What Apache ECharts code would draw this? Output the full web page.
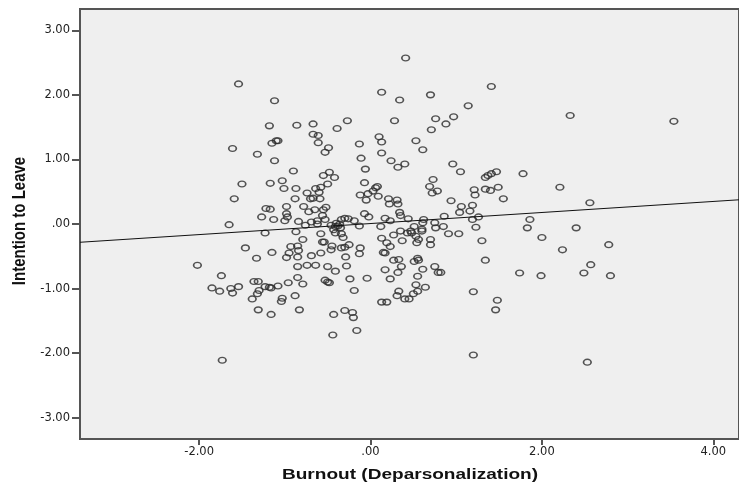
<!DOCTYPE html>
<html><head><meta charset="utf-8">
<script src="https://cdn.jsdelivr.net/npm/echarts@6/dist/echarts.min.js"></script>
<style>html,body{margin:0;padding:0;background:#fff}#c{width:739px;height:488px}</style>
</head><body><div id="c"></div>
<script>
const burnout = [
-1.54,-1.12,0.13,-1.18,-0.86,-0.67,-0.27,-0.39,-0.67,-0.61,
-0.61,-1.15,-1.10,-1.08,-1.61,-1.32,-1.12,-0.53,-0.49,-0.13,
0.10,0.13,0.13,-0.11,-0.06,-0.90,-0.55,-0.48,-0.42,-1.50,
-1.17,-1.03,-1.01,-0.87,-0.50,-0.58,-0.64,-0.74,-0.60,-0.07,
-1.59,-0.88,-0.70,-0.67,-0.59,-0.12,-0.03,0.03,0.06,0.08,
0.09,-0.05,-1.22,-1.17,-0.98,-0.78,-0.72,-0.65,-0.52,-0.55,
-1.27,-1.13,-1.00,-0.98,-0.97,-1.65,-0.84,-0.76,-0.69,-0.62,
-0.56,-0.53,-0.62,-0.46,-0.41,-0.36,-0.34,-0.30,-0.26,-0.19,
-0.13,-0.07,-0.02,-1.23,-0.87,-0.79,-0.58,-0.56,-0.43,-0.41,
-0.34,-0.32,-0.38,-0.35,-0.40,
-1.46,-1.33,-1.15,-0.93,-0.85,-0.84,-0.95,-0.98,-0.85,-0.69,
-0.58,-0.54,-0.45,-0.46,-0.34,-0.30,-0.25,-0.12,-0.13,-0.29,
-0.28,-2.02,-1.74,-1.85,-1.76,-1.63,-1.61,-1.54,-1.36,-1.31,
-1.38,-1.32,-1.30,-1.23,-1.18,-1.16,-1.08,-1.03,-1.04,-0.96,
-0.85,-0.79,-0.88,-0.85,-0.74,-0.64,-0.50,-0.41,-0.53,-0.50,
-0.48,-0.24,-0.19,-0.04,-1.31,-1.16,-0.83,-0.43,-0.30,-0.21,
-0.20,-0.16,-0.44,-1.73,
0.34,0.70,1.41,1.14,2.33,0.28,0.76,0.97,0.88,0.71,
0.53,0.61,0.24,0.32,0.40,0.96,1.05,1.78,0.73,0.69,
0.72,0.78,1.34,1.37,1.41,1.47,1.34,1.40,1.49,1.55,
1.21,1.22,2.21,2.56,0.21,0.22,0.31,0.32,0.17,0.23,
0.34,0.35,0.44,0.12,0.62,0.61,0.51,0.60,0.75,0.86,
0.85,0.94,1.06,1.04,1.19,1.16,1.26,1.19,1.23,1.86,
1.83,2.00,2.40,1.30,2.78,2.24,0.13,0.27,0.35,0.43,
0.47,0.48,0.53,0.56,0.60,0.70,0.70,0.76,0.91,1.03,
0.54,0.19,0.23,0.37,
0.15,0.17,0.27,0.33,0.36,0.32,0.17,0.23,0.51,0.55,
0.56,0.61,0.75,0.79,0.82,0.55,0.53,0.64,0.55,0.50,
0.45,0.40,0.33,0.31,0.13,0.19,1.34,1.74,1.99,2.49,
2.57,2.80,1.20,1.48,1.46,1.20,2.53,0.41,3.54
];
const intention = [
2.17,1.91,2.04,1.52,1.53,1.55,1.60,1.48,1.39,1.37,
1.26,1.25,1.29,1.29,1.17,1.08,0.98,1.11,1.18,1.24,
1.35,1.27,1.10,1.02,0.85,0.82,0.75,0.80,0.72,0.62,
0.63,0.67,0.55,0.55,0.62,0.57,0.55,0.48,0.49,0.64,
0.39,0.39,0.39,0.40,0.39,0.45,0.47,0.51,0.56,0.58,
0.43,0.37,0.24,0.23,0.27,0.27,0.19,0.22,0.26,0.22,
0.11,0.07,0.05,0.16,0.11,-0.01,0.04,-0.02,0.03,0.05,
0.13,0.07,0.00,-0.02,-0.04,0.00,0.07,0.09,0.08,0.05,
-0.03,0.16,0.11,-0.14,-0.12,-0.24,-0.15,-0.28,-0.09,-0.14,
-0.15,-0.21,-0.03,-0.06,0.01,
-0.37,-0.53,-0.44,-0.35,-0.34,-0.41,-0.45,-0.52,-0.51,-0.49,
-0.45,-0.28,-0.34,-0.40,-0.37,-0.36,-0.32,-0.37,-0.46,-0.51,
-0.65,-0.64,-0.80,-0.99,-1.04,-1.00,-1.07,-0.97,-0.89,-0.89,
-1.16,-1.08,-1.03,-0.97,-0.98,-0.99,-0.96,-1.15,-1.20,-0.91,
-0.83,-0.93,-1.11,-0.66,-0.64,-0.64,-0.66,-0.73,-0.87,-0.90,
-0.91,-0.85,-1.03,-0.84,-1.33,-1.40,-1.33,-1.40,-1.34,-1.37,
-1.45,-1.65,-1.72,-2.11,
1.92,2.00,2.13,1.83,1.68,1.60,1.63,1.66,1.55,1.46,
1.29,1.15,0.98,0.88,0.93,0.93,0.81,0.78,0.69,0.58,
0.48,0.51,0.72,0.75,0.78,0.81,0.54,0.52,0.57,0.39,
0.53,0.45,0.57,0.33,0.39,0.31,0.37,0.31,0.09,0.05,
0.18,0.13,0.08,-0.04,0.07,0.02,-0.04,-0.08,0.02,0.12,
-0.04,0.36,0.27,0.18,0.29,0.20,0.11,0.07,-0.05,0.07,
-0.06,-0.21,-0.06,-0.26,-0.32,-0.40,-0.22,-0.17,-0.11,-0.14,
-0.11,-0.14,-0.19,-0.24,-0.11,-0.24,-0.32,-0.06,-0.15,-0.15,
-0.29,-0.29,-0.35,-0.26,
-0.44,-0.45,-0.56,-0.55,-0.66,-0.75,-0.71,-0.85,-0.58,-0.53,
-0.56,-0.70,-0.66,-0.75,-0.75,-0.81,-0.94,-0.98,-1.04,-1.08,
-1.16,-1.16,-1.04,-1.11,-1.21,-1.21,-0.56,-0.76,-0.80,-0.76,
-0.63,-0.80,-1.05,-1.18,-1.33,-2.03,-2.14,2.57,1.59
];
const xTicks = [-2, 0, 2, 4];
const yTicks = [-3, -2, -1, 0, 1, 2, 3];
const xRange = [-3.39, 4.30];
const yRange = [-3.33, 3.33];
const fitX = [-3.39, 4.30];
const fitY = [-0.283, 0.375];
const xTitle = 'Burnout (Deparsonalization)';
const yTitle = 'Intention to Leave';

const fmt = v => v.toFixed(2).replace(/^(-?)0\./, '$1.');
const points = burnout.map((x, i) => [x, intention[i]]);
const axisColor = '#555555';
const labelStyle = { fontFamily: 'DejaVu Sans', fontSize: 11.5, color: '#222' };
const titleFont = 'bold 15px "Liberation Sans", Arial, sans-serif';
const ellipse = 'path://M0,5A5,5 0 1,0 10,5A5,5 0 1,0 0,5Z';

const chart = echarts.init(document.getElementById('c'), null, { renderer: 'canvas' });
chart.setOption({
  animation: false,
  backgroundColor: '#ffffff',
  grid: { left: 80, top: 9, right: -3, bottom: 49, show: true, backgroundColor: '#efefef',
          borderColor: axisColor, borderWidth: 2 },
  xAxis: {
    type: 'value', min: xRange[0], max: xRange[1],
    splitLine: { show: false },
    axisLine: { show: true, onZero: false, lineStyle: { color: axisColor, width: 2 } },
    axisTick: { show: true, inside: false, length: 6, lineStyle: { color: axisColor, width: 2 }, customValues: xTicks },
    axisLabel: Object.assign({ margin: 7, customValues: xTicks, formatter: fmt }, labelStyle)
  },
  yAxis: {
    type: 'value', min: yRange[0], max: yRange[1],
    splitLine: { show: false },
    axisLine: { show: true, onZero: false, lineStyle: { color: axisColor, width: 2 } },
    axisTick: { show: true, inside: false, length: 8, lineStyle: { color: axisColor, width: 2 }, customValues: yTicks },
    axisLabel: Object.assign({ margin: 10, customValues: yTicks, formatter: fmt }, labelStyle)
  },
  graphic: [
    { type: 'text', x: 410, y: 474.5, scaleX: 1.27,
      style: { text: xTitle, font: titleFont, fill: '#111', align: 'center', verticalAlign: 'middle',
               textAlign: 'center', textVerticalAlign: 'middle' } },
    { type: 'text', x: 19.5, y: 221, rotation: Math.PI / 2, scaleY: 1.27,
      style: { text: yTitle, font: titleFont, fill: '#111', align: 'center', verticalAlign: 'middle',
               textAlign: 'center', textVerticalAlign: 'middle' } }
  ],
  series: [
    {
      type: 'scatter', data: points, symbol: ellipse, symbolKeepAspect: false, symbolSize: [7.6, 5.8],
      itemStyle: { color: 'rgba(0,0,0,0)', borderColor: '#2a2a2a', borderWidth: 1.5 },
      silent: true
    },
    {
      type: 'line', data: fitX.map((x, i) => [x, fitY[i]]), symbol: 'none',
      lineStyle: { color: '#111', width: 1 }, silent: true, z: 3
    }
  ]
});
</script>
</body></html>
